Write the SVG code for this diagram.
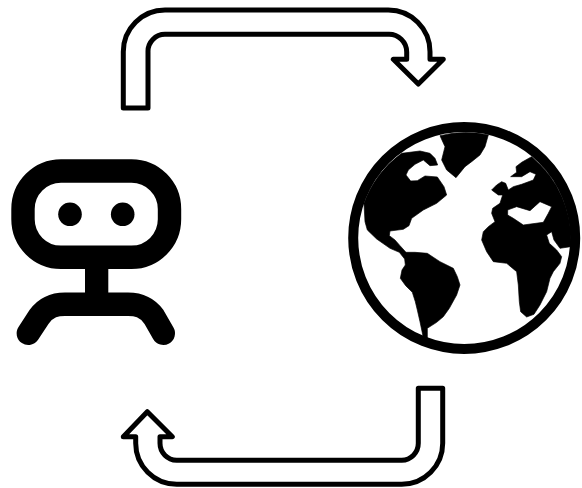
<svg xmlns="http://www.w3.org/2000/svg" width="582" height="488" viewBox="0 0 582 488">
<style>
.arrow{fill:#fff;stroke:#000;stroke-width:5;stroke-linejoin:round}
.ink{fill:none;stroke:#000;stroke-width:23.4;stroke-linecap:round}
.land{fill:#000;fill-rule:evenodd;stroke:#000;stroke-width:2;stroke-linejoin:round}
</style>
<rect width="582" height="488" fill="#fff"/>
<g id="connectors">
<path id="arrow-top" class="arrow" d="M123.3 108V51.7A41.7 41.7 0 0 1 165 10H388.3A41.7 41.7 0 0 1 430 51.7V59.3H443.3L418.3 84L393.3 59.3H406.7V52A17.7 17.7 0 0 0 388.3 34.3H165A17 17 0 0 0 148 51.7V108Z"/>
<path id="arrow-bottom" class="arrow" d="M442.7 388.3V443.3A41 41 0 0 1 401.7 484.3H176.7A41 41 0 0 1 135.7 443.3V436.7H123.3L147.3 411.7L172.3 436.7H160V443.3A17 17 0 0 0 176.7 460.3H401.7A17 17 0 0 0 418.3 443.3V388.3Z"/>
</g>
<g id="robot">
<rect class="ink" style="stroke-linecap:butt" x="23" y="171" width="146.5" height="86.3" rx="38" ry="38"/>
<circle cx="70" cy="214.3" r="11.8"/>
<circle cx="122.7" cy="214.3" r="11.8"/>
<rect x="85" y="266" width="23.3" height="32"/>
<path class="ink" d="M28.3 333.3L39 317C47 306 56 304.3 65 304.3H128C137 304.3 146 306 154 317L163.3 333.3"/>
</g>
<g id="globe">
<circle cx="464.2" cy="238" r="111" fill="#fff" stroke="#000" stroke-width="10"/>
<g transform="translate(340 115) scale(.3333)">
<path class="land" d="M72 265L75 320L82 345L110 372L150 400L178 412L194 432L196 450L186 465L181 490L197 512L217 532L226 560L232 585L240 620L250 668L262 676L262 640L290 622L310 605L328 580L350 540L360 510L352 485L340 460L300 440L262 415L225 412L198 412L180 392L165 375L148 362L150 348L190 343L207 332L215 310L250 285L290 265L320 240L312 215L292 186L255 183L232 197L212 198L198 180L205 165L225 148L250 135L270 152L293 150L285 130L270 115L240 108L185 115A322 322 0 0 0 72 265Z"/>
<path class="land" d="M300 62L315 95L305 135L320 165L348 188L375 155L395 140L420 120L435 95L445 60A322 322 0 0 0 300 62Z"/>
<path class="land" d="M575 125L545 142L528 155L530 172L512 185L545 185L570 170L588 178L580 195L545 208L520 215L505 225L497 205L485 200L470 210L455 225L475 240L488 240L480 265L458 280L455 295L465 320L445 335L430 350L425 375L440 410L460 440L500 445L530 470L535 510L538 560L542 590L560 606L582 598L600 570L620 530L630 490L640 470L660 445L665 425L650 405L628 385L620 360L635 350L642 375L660 400L692 395A322 322 0 0 0 575 125ZM503 285L530 275L570 287L600 260L635 275L625 295L610 322L550 330L520 310L503 300Z"/>
</g>
</g>
</svg>
